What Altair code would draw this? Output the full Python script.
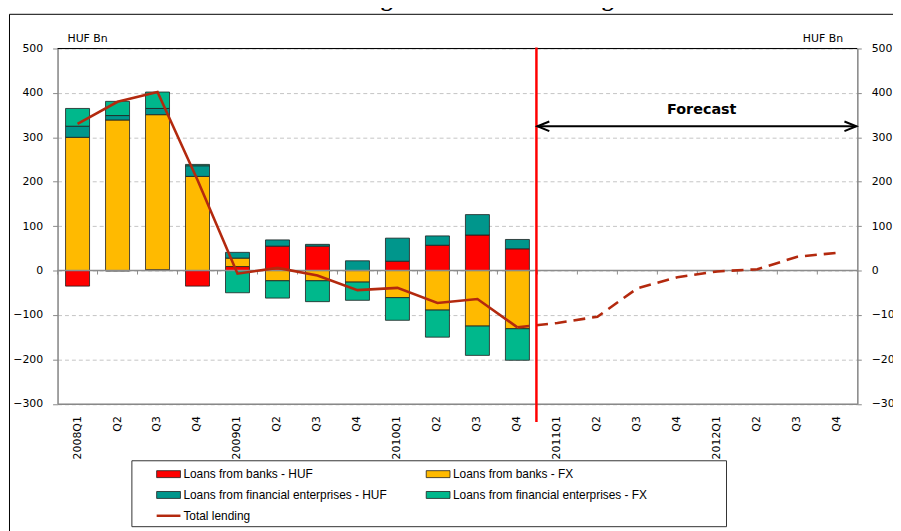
import altair as alt
import pandas as pd

# ---------------- data ----------------
quarters = ["2008Q1", "2008Q2", "2008Q3", "2008Q4", "2009Q1", "2009Q2", "2009Q3", "2009Q4",
            "2010Q1", "2010Q2", "2010Q3", "2010Q4", "2011Q1", "2011Q2", "2011Q3", "2011Q4",
            "2012Q1", "2012Q2", "2012Q3", "2012Q4"]
tick_labels = ["2008Q1", "Q2", "Q3", "Q4", "2009Q1", "Q2", "Q3", "Q4",
               "2010Q1", "Q2", "Q3", "Q4", "2011Q1", "Q2", "Q3", "Q4",
               "2012Q1", "Q2", "Q3", "Q4"]
actual_quarters = quarters[:12]
forecast_quarters = quarters[11:]

series_names = ["Loans from banks - HUF", "Loans from banks - FX",
                "Loans from financial enterprises - HUF", "Loans from financial enterprises - FX"]
series_colors = ["#FF0000", "#FFBA00", "#00968C", "#00B88C"]
total_name = "Total lending"
line_color = "#B3290E"

banks_huf = [-35, -1, 2, -35, 9, 55, 55, 0, 21, 57, 80, 49]
banks_fx = [300, 339, 349, 212, 19, -23, -23, -26, -61, -89, -125, -131]
fin_huf = [25, 10, 14, 24, 13, 14, 4, 22, 52, 21, 46, 21]
fin_fx = [40, 32, 37, 3, -50, -39, -47, -41, -51, -61, -66, -71]
total_lending = [330, 380, 402, 204, -7, 6, -11, -44, -39, -73, -64, -128]
total_forecast = [-128, -118, -104, -40, -15, -2, 3, 31, 40]
y_ticks = [-300, -200, -100, 0, 100, 200, 300, 400, 500]

title_text = "Chart 17: Net change in loans outstanding to households"
unit_label = "HUF Bn"
forecast_label = "Forecast"

# ---------------- layout ----------------
W, H = 807, 358.5
FONT = "DejaVu Sans"
one = pd.DataFrame({"k": [0]})

rows = []
for idx, (name, vals) in enumerate(zip(series_names, [banks_huf, banks_fx, fin_huf, fin_fx])):
    for q, v in zip(actual_quarters, vals):
        rows.append({"quarter": q, "series": name, "value": v, "order": idx})
bars_df = pd.DataFrame(rows)
total_df = pd.DataFrame({"quarter": actual_quarters, "value": total_lending})
fc_df = pd.DataFrame({"quarter": forecast_quarters, "value": total_forecast})
q_df = pd.DataFrame({"quarter": quarters})
start_df = pd.DataFrame({"quarter": [forecast_quarters[1]]})

label_expr = ("[" + ",".join("'%s'" % t for t in tick_labels) + "][indexof(["
              + ",".join("'%s'" % q for q in quarters) + "], datum.value)]")

x_scale = alt.Scale(domain=quarters, paddingInner=0, paddingOuter=0)
x_axis = alt.Axis(title=None, labelAngle=-90, labelExpr=label_expr, ticks=False, grid=False,
                  domainColor="#888888", domainWidth=1.5, labelFont=FONT, labelFontSize=11,
                  labelColor="black", labelPadding=12)


def X(field="quarter:N", **kw):
    return alt.X(field, scale=x_scale, axis=x_axis, **kw)


y_scale = alt.Scale(domain=[-300, 500], nice=False, zero=False)
left_axis = alt.Axis(orient="left", values=y_ticks, title=None, grid=True, gridDash=[4, 3],
                     gridColor="#C4C4C4", domainColor="#888888", domainWidth=1.5,
                     tickColor="#888888", tickSize=5, labelPadding=10, labelFont=FONT,
                     labelFontSize=11, labelColor="black")
right_axis = alt.Axis(orient="right", values=y_ticks, title=None, grid=False,
                      domainColor="#888888", domainWidth=1.5, tickColor="#888888",
                      tickSize=4, labelPadding=10, labelFont=FONT, labelFontSize=11,
                      labelColor="black")
color_scale = alt.Scale(domain=series_names, range=series_colors)

frame = alt.Chart(one).mark_rect(fill="white", fillOpacity=0, stroke="black", strokeWidth=1).encode(
    x=alt.value(-48.5), x2=alt.value(W + 100), y=alt.value(-34.5), y2=alt.value(H + 300))

zero_rule = alt.Chart(one).mark_rule(color="#8C8C8C", strokeWidth=1.5).encode(
    y=alt.Y(datum=0, scale=y_scale, axis=None))
top_rule = alt.Chart(one).mark_rule(color="black", strokeWidth=1).encode(
    y=alt.Y(datum=500, scale=y_scale, axis=None))
zero_ticks = alt.Chart(q_df).mark_rule(color="#8C8C8C", strokeWidth=1, y2Offset=4).encode(
    x=X(bandPosition=0), y=alt.Y(datum=0, scale=y_scale, axis=None), y2=alt.Y2(datum=0))

bars = alt.Chart(bars_df).mark_bar(stroke="#1E1E1E", strokeWidth=0.8,
                                   width=alt.RelativeBandSize(0.6)).encode(
    x=X(),
    y=alt.Y("value:Q", stack="zero", scale=y_scale, axis=left_axis),
    color=alt.Color("series:N", scale=color_scale, legend=None),
    order=alt.Order("order:Q", sort="ascending"),
)

total_line = alt.Chart(total_df).mark_line(color=line_color, strokeWidth=2.6).encode(
    x=X(), y=alt.Y("value:Q", scale=y_scale, axis=right_axis))
fc_line = alt.Chart(fc_df).mark_line(color=line_color, strokeWidth=2.6, strokeDash=[12, 7]).encode(
    x=X(), y=alt.Y("value:Q", scale=y_scale, axis=None))

red_rule = alt.Chart(start_df).mark_rule(color="#FF0000", strokeWidth=2.5, xOffset=-1).encode(
    x=X(bandPosition=0), y=alt.value(-1), y2=alt.value(377))

arrow_y = 78.5
arrow = alt.Chart(start_df).mark_rule(color="black", strokeWidth=2).encode(
    x=X(bandPosition=0), x2=alt.value(W - 1), y=alt.value(arrow_y))
head_l = alt.Chart(start_df).mark_point(shape="M2,-0.8L0,0L2,0.8", size=144, filled=False,
                                        stroke="black", strokeWidth=2, opacity=1).encode(
    x=X(bandPosition=0), y=alt.value(arrow_y))
head_r = alt.Chart(one).mark_point(shape="M-2,-0.8L0,0L-2,0.8", size=144, filled=False,
                                   stroke="black", strokeWidth=2, opacity=1).encode(
    x=alt.value(W - 1), y=alt.value(arrow_y))
fc_text = alt.Chart(one).mark_text(font=FONT, fontSize=14.5, fontWeight="bold", align="center",
                                   baseline="middle", color="black").encode(
    x=alt.value(650), y=alt.value(62), text=alt.value(forecast_label))

unit_l = alt.Chart(one).mark_text(font=FONT, fontSize=11, align="left", baseline="middle",
                                  color="black").encode(
    x=alt.value(10), y=alt.value(-9.5), text=alt.value(unit_label))
unit_r = alt.Chart(one).mark_text(font=FONT, fontSize=11, align="left", baseline="middle",
                                  color="black").encode(
    x=alt.value(752), y=alt.value(-9.5), text=alt.value(unit_label))
title = alt.Chart(one).mark_text(font="Liberation Serif", fontSize=24, fontWeight="bold",
                                 align="center", baseline="alphabetic", color="black").encode(
    x=alt.value(418), y=alt.value(-43), text=alt.value(title_text))

# legend (manual, Excel-like box)
legend_layers = [alt.Chart(one).mark_rect(fill="white", stroke="#333333", strokeWidth=1).encode(
    x=alt.value(75), x2=alt.value(675), y=alt.value(416), y2=alt.value(482.5))]
col_x = [100, 372]
row_y = [429.5, 450.5, 471.5]
LFONT = "Liberation Sans"
for i, (name, colr) in enumerate(zip(series_names, series_colors)):
    cx, ry = col_x[i % 2], row_y[i // 2]
    legend_layers.append(alt.Chart(one).mark_rect(fill=colr, stroke="#1E1E1E", strokeWidth=0.8).encode(
        x=alt.value(cx), x2=alt.value(cx + 24), y=alt.value(ry - 3.5), y2=alt.value(ry + 3.5)))
    legend_layers.append(alt.Chart(one).mark_text(font=LFONT, fontSize=12, align="left",
                                                  baseline="middle", color="black").encode(
        x=alt.value(cx + 27), y=alt.value(ry), text=alt.value(name)))
legend_layers.append(alt.Chart(one).mark_rule(color=line_color, strokeWidth=2.5).encode(
    x=alt.value(col_x[0]), x2=alt.value(col_x[0] + 24), y=alt.value(row_y[2])))
legend_layers.append(alt.Chart(one).mark_text(font=LFONT, fontSize=12, align="left",
                                              baseline="middle", color="black").encode(
    x=alt.value(col_x[0] + 27), y=alt.value(row_y[2]), text=alt.value(total_name)))

chart = alt.layer(
    frame, bars, zero_rule, zero_ticks, top_rule, total_line, fc_line, red_rule,
    arrow, head_l, head_r, fc_text, unit_l, unit_r, title, *legend_layers
).resolve_axis(y="independent").properties(
    width=W, height=H,
    autosize=alt.AutoSizeParams(type="none"),
    padding={"left": 50, "top": 38.5, "right": 36, "bottom": 126},
).configure_view(stroke=None).configure(background="white")

chart.save("out.html", embed_options={"renderer": "svg", "actions": False})
